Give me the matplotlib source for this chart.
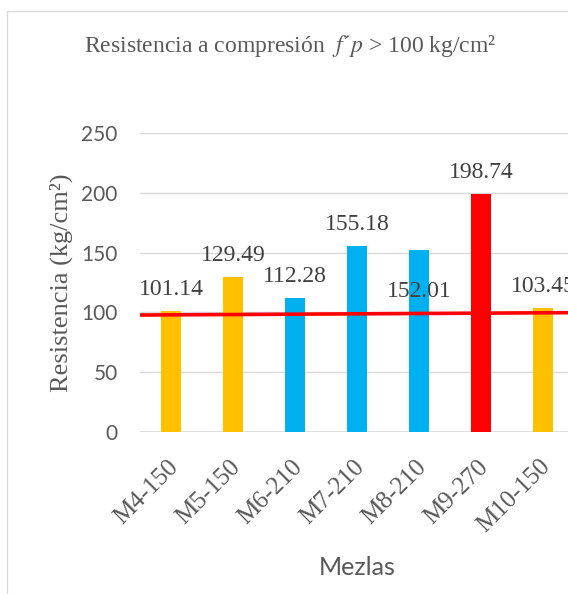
import matplotlib
matplotlib.use("Agg")
import matplotlib.pyplot as plt
import matplotlib.transforms as mtransforms
from matplotlib.patches import Rectangle

# ── Data ──────────────────────────────────────────────────────────────────────
mezclas = ["M4-150", "M5-150", "M6-210", "M7-210", "M8-210", "M9-270", "M10-150"]
resistencia = [101.14, 129.49, 112.28, 155.18, 152.01, 198.74, 103.45]
grupo = ["150", "150", "210", "210", "210", "270", "150"]
limite_x = [-0.5, 6.5]
limite_y = [97.8, 99.8]
y_ticks = [0, 50, 100, 150, 200, 250]

colores = {"150": "#FFC000", "210": "#00B0F0", "270": "#FF0000"}
GRID = "#D9D9D9"
TXT = "#595959"

plt.rcParams["font.family"] = ["Liberation Serif", "DejaVu Serif"]
plt.rcParams["mathtext.fontset"] = "stix"

fig = plt.figure(figsize=(5.68, 5.94), dpi=100)
fig.patch.set_facecolor("white")

# chart-area border (cut off at right and bottom like the source)
fig.patches.append(Rectangle((7 / 568, -0.05), 1.2, 1 - 11 / 594 + 0.05,
                             transform=fig.transFigure, fill=False,
                             edgecolor=GRID, lw=1.0))

ax = fig.add_axes([140 / 568, 162 / 594, 434 / 568, 299 / 594])
ax.set_facecolor("none")

x = list(range(len(mezclas)))
ax.bar(x, resistencia, width=0.32, color=[colores[g] for g in grupo], zorder=2)
ax.plot(limite_x, limite_y, color="#FF0000", lw=2.6, zorder=3, solid_capstyle="butt")

# data labels; 152.01 sits lower, as in the source
desplaz = {4: -34}
for i, v in enumerate(resistencia):
    ax.annotate(f"{v:.2f}", (i, v), xytext=(0, desplaz.get(i, 11.5)),
                textcoords="offset points", ha="center", va="baseline",
                fontsize=17, color="#404040", zorder=4, annotation_clip=False)

ax.set_xlim(-0.5, 6.5)
ax.set_ylim(0, 250)
ax.set_yticks(y_ticks)
ax.grid(axis="y", color=GRID, lw=1.0, zorder=0)
ax.set_axisbelow(True)
for s in ax.spines.values():
    s.set_visible(False)
ax.axhline(0, color=GRID, lw=1.2, zorder=1)

ax.tick_params(axis="both", length=0)
ax.tick_params(axis="y", pad=16, labelsize=15, labelcolor=TXT)
for t in ax.get_yticklabels():
    t.set_family("Lato")
ax.set_xticks(x)
ax.set_xticklabels(mezclas, rotation=45, ha="right", rotation_mode="anchor",
                   fontsize=18, color=TXT)
ax.tick_params(axis="x", pad=17)
shift = mtransforms.ScaledTranslation(-4 / 100, 0, fig.dpi_scale_trans)
for t in ax.get_xticklabels():
    t.set_transform(t.get_transform() + shift)

ax.set_xlabel("Mezlas", fontsize=18, color=TXT, family="Lato", labelpad=14)
ax.set_ylabel("Resistencia (kg/cm²)", fontsize=19, color=TXT, labelpad=6)

fig.text(290 / 568, 1 - 46 / 594,
         "Resistencia a compresión  $f$´$p$ > 100 kg/cm²",
         ha="center", va="center", fontsize=17, color=TXT)

fig.savefig("out.png", dpi=100, facecolor="white")
